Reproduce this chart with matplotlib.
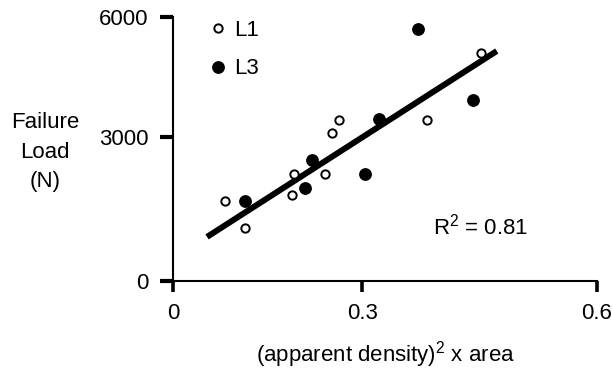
"""Failure load vs (apparent density)^2 x area, L1 and L3"""
import numpy as np
import matplotlib
matplotlib.use('Agg')
import matplotlib.pyplot as plt
from matplotlib.lines import Line2D

plt.rcParams['font.family'] = ['Liberation Sans', 'DejaVu Sans']
plt.rcParams['mathtext.fontset'] = 'custom'
plt.rcParams['mathtext.rm'] = 'Liberation Sans'
plt.rcParams['mathtext.it'] = 'Liberation Sans'
plt.rcParams['mathtext.default'] = 'regular'

# L1 vertebrae (open circles)
l1_x = [0.083, 0.114, 0.189, 0.192, 0.241, 0.252, 0.263, 0.383, 0.452]
l1_y = [1670, 1100, 1790, 2230, 2230, 3100, 3420, 3420, 5100]

# L3 vertebrae (filled circles)
l3_x = [0.114, 0.210, 0.221, 0.304, 0.322, 0.371, 0.442]
l3_y = [1670, 1940, 2520, 2230, 3450, 5700, 3920]

# regression line ends
fit_x = [0.054, 0.472]
fit_y = [920, 5150]
r_squared = 0.81

x_ticks = [0, 0.3, 0.6]
y_ticks = [0, 3000, 6000]

# the printed axes are not evenly spaced: tick value -> fraction of axis length
x_frac = [0, 0.446, 1.0]
y_frac = [0, 0.545, 1.0]


def piecewise(xp, fp):
    def fwd(v):
        v = np.asarray(v, dtype=float)
        lo = fp[0] + (v - xp[0]) * (fp[1] - fp[0]) / (xp[1] - xp[0])
        hi = fp[1] + (v - xp[1]) * (fp[2] - fp[1]) / (xp[2] - xp[1])
        return np.where(v < xp[1], lo, hi)
    return fwd


x_fwd, x_inv = piecewise(x_ticks, x_frac), piecewise(x_frac, x_ticks)
y_fwd, y_inv = piecewise(y_ticks, y_frac), piecewise(y_frac, y_ticks)

fig = plt.figure(figsize=(6.12, 3.70), dpi=100)
ax = fig.add_axes([173 / 612, 1 - 281 / 370, 424 / 612, 264 / 370])

ax.set_xscale('function', functions=(x_fwd, x_inv))
ax.set_yscale('function', functions=(y_fwd, y_inv))
ax.set_xlim(0, 0.6)
ax.set_ylim(0, 6000)

# straight line on the page: interpolate in scaled space
t = np.linspace(0, 1, 60)
line_x = x_inv(x_fwd(fit_x[0]) + t * (x_fwd(fit_x[1]) - x_fwd(fit_x[0])))
line_y = y_inv(y_fwd(fit_y[0]) + t * (y_fwd(fit_y[1]) - y_fwd(fit_y[0])))
ax.plot(line_x, line_y, color='black', lw=4.3, solid_capstyle='butt', zorder=2)

ax.plot(l1_x, l1_y, 'o', ms=6, mfc='white', mec='black', mew=1.4,
        clip_on=False, zorder=3)
ax.plot(l3_x, l3_y, 'o', ms=8.2, mfc='black', mec='black', clip_on=False, zorder=3)

for side in ['top', 'right']:
    ax.spines[side].set_visible(False)
for side in ['left', 'bottom']:
    ax.spines[side].set_linewidth(1.5)

ax.set_xticks(x_ticks)
ax.set_xticklabels(['0', '0.3', '0.6'])
ax.set_yticks(y_ticks)
ax.set_yticklabels(['0', '3000', '6000'])
ax.minorticks_off()
ax.tick_params(axis='x', direction='out', length=8, width=2.6, pad=8, labelsize=16)
ax.tick_params(axis='y', direction='out', length=9.5, width=3, pad=8, labelsize=16)

ax.set_xlabel('(apparent density)$^2$ x area', fontsize=16, labelpad=11)
fig.text(45 / 612, 1 - 152 / 370, 'Failure\nLoad\n(N)', fontsize=16,
         ha='center', va='center', linespacing=1.5)

ax.text(0.614, 0.205, f'R$^2$ = {r_squared:.2f}', transform=ax.transAxes,
        fontsize=16, ha='left', va='center')

handles = [Line2D([], [], ls='none', marker='o', ms=6, mfc='white', mec='black', mew=1.4),
           Line2D([], [], ls='none', marker='o', ms=8.2, mfc='black', mec='black')]
ax.legend(handles, ['L1', 'L3'], loc='upper left', bbox_to_anchor=(0.09, 0.99),
          frameon=False, fontsize=16, handlelength=0.6, handletextpad=0.42,
          labelspacing=0.8, borderpad=0, borderaxespad=0)

plt.savefig('out.png', dpi=100)
plt.close()
